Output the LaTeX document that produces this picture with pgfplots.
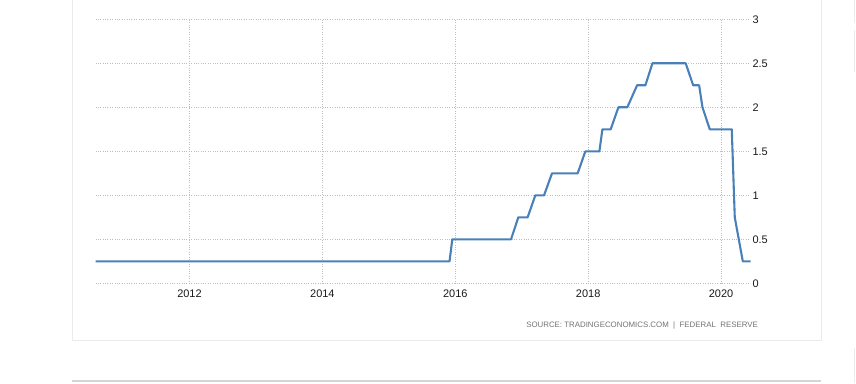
\documentclass[border=0pt]{standalone}
\usepackage{pgfplots}
\pgfplotsset{compat=1.18}
\usepackage{fontspec}
\setmainfont{Liberation Sans}
\definecolor{rateline}{HTML}{4A80B8}
\definecolor{gridc}{HTML}{BEBEBE}
\definecolor{panel}{HTML}{EBEBEB}
\begin{document}
\begin{tikzpicture}[x=1bp,y=1bp]
\path[use as bounding box] (0,0) rectangle (856,383);
% panel frame
\draw[color=panel, line width=1bp] (72,384) -- (72,43) -- (821,43) -- (821,384);
\fill[color=panel!80!gray] (72,1) rectangle (821,3);
\draw[color=panel, line width=1bp] (854.5,383) -- (854.5,360) (854.5,353) -- (854.5,311) (854.5,35) -- (854.5,0);
\begin{axis}[
  at={(95.5bp,99.7bp)}, anchor=south west,
  scale only axis, width=655bp, height=264bp,
  xmin=2010.586, xmax=2020.443, ymin=0, ymax=3,
  axis line style={draw=none},
  major tick length=0pt,
  xtick={2012,2014,2016,2018,2020},
  ytick={0,0.5,1,1.5,2,2.5,3},
  yticklabels={0,0.5,1,1.5,2,2.5,3},
  yticklabel pos=right,
  grid=major,
  grid style={dotted, color=gridc, line width=0.75bp},
  /pgf/number format/assume math mode=true,
  /pgf/number format/1000 sep={},
  xticklabel style={font=\fontsize{11}{13}\selectfont, text=black!90, anchor=north, inner sep=0pt, yshift=-6.5bp},
  yticklabel style={font=\fontsize{11}{13}\selectfont, text=black!90, anchor=west, inner sep=0pt, xshift=1.8bp},
  clip=false,
]
\addplot[color=rateline, line width=2.1bp, line join=round] table {
x y
2010.586 0.25
2015.914 0.25
2015.955 0.5
2016.839 0.5
2016.949 0.75
2017.089 0.75
2017.205 1.0
2017.336 1.0
2017.456 1.25
2017.842 1.25
2017.958 1.5
2018.169 1.5
2018.214 1.75
2018.339 1.75
2018.455 2.0
2018.589 2.0
2018.736 2.25
2018.861 2.25
2018.967 2.5
2019.468 2.5
2019.580 2.25
2019.670 2.25
2019.720 2.0
2019.830 1.75
2020.161 1.75
2020.206 0.75
2020.327 0.25
2020.443 0.25
};
\end{axis}
\node[anchor=base east, inner sep=0pt, font=\fontsize{7.9}{9}\selectfont, text=black!55] at (758,56) {SOURCE:\ TRADINGECONOMICS.COM\ \ |\ \ FEDERAL\ \ RESERVE};
\end{tikzpicture}
\end{document}
